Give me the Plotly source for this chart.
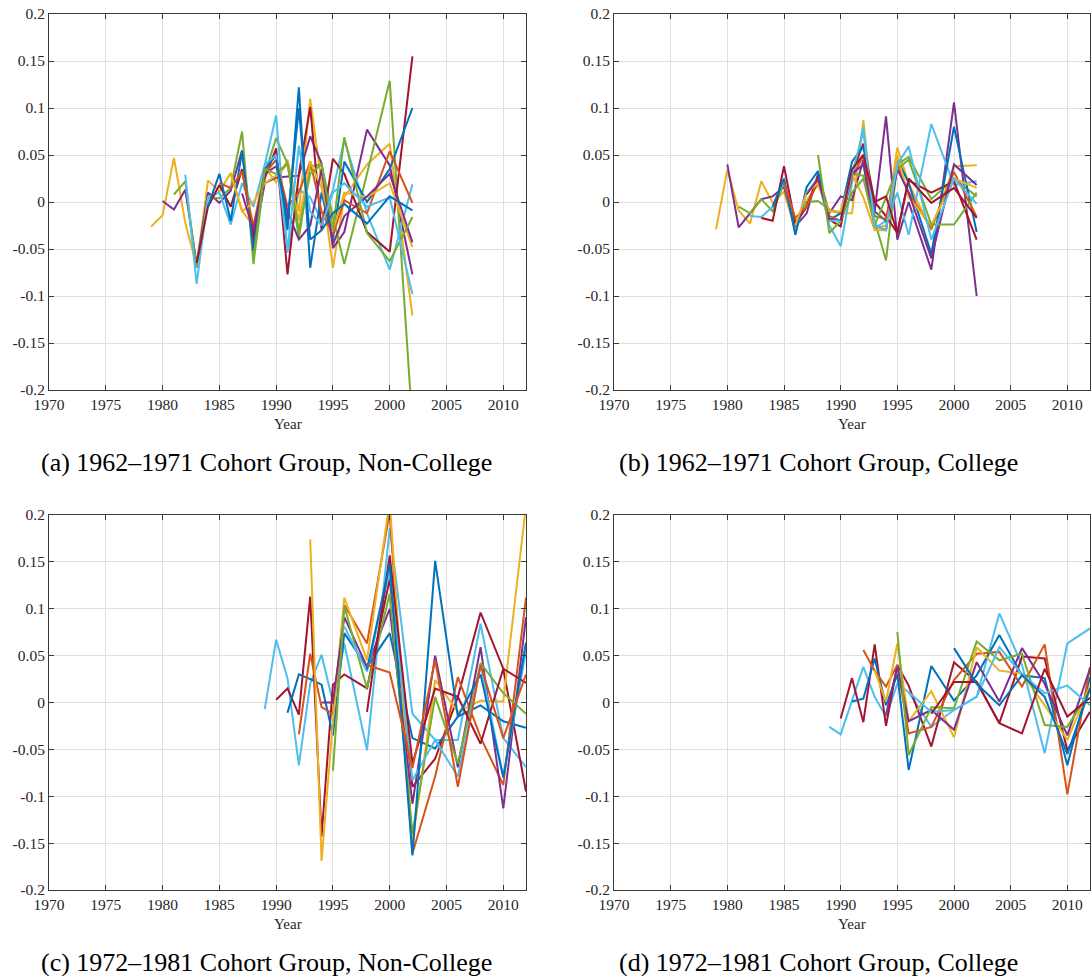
import plotly.graph_objects as go

# ---------------- data ----------------
years_ab = list(range(1979, 1997)) + [1998, 2000, 2002]
years_cd = list(range(1989, 1997)) + [1998, 2000, 2002, 2004, 2006, 2008, 2010, 2012]

x_tick_vals = [1970, 1975, 1980, 1985, 1990, 1995, 2000, 2005, 2010]
y_tick_vals = [-0.2, -0.15, -0.1, -0.05, 0, 0.05, 0.1, 0.15, 0.2]
y_tick_text = ["-0.2", "-0.15", "-0.1", "-0.05", "0", "0.05", "0.1", "0.15", "0.2"]

captions = ["(a) 1962\u20131971 Cohort Group, Non-College",
            "(b) 1962\u20131971 Cohort Group, College",
            "(c) 1972\u20131981 Cohort Group, Non-College",
            "(d) 1972\u20131981 Cohort Group, College"]

BLUE, ORANGE, YELLOW, PURPLE = "#0072BD", "#D95319", "#EDB120", "#7E2F8E"
GREEN, CYAN, RED = "#77AC30", "#4DBEEE", "#A2142F"

# Panel (a): 1962-1971 cohorts, non-college
a_colors = [YELLOW, PURPLE, GREEN, CYAN, RED, BLUE, ORANGE, YELLOW, PURPLE, GREEN, CYAN, BLUE]
a_starts = [1979, 1980, 1981, 1982, 1983, 1984, 1985, 1986, 1987, 1988, 1989, 1990]
a_values = [
    [-0.026, -0.014, 0.047, -0.022, -0.068, 0.023, 0.011, 0.031, -0.009, -0.026, 0.037, 0.021, 0.045, -0.010, 0.110, 0.020, -0.070, 0.005, 0.040, 0.062, -0.121],
    [0.001, -0.008, 0.013, -0.066, 0.010, -0.001, 0.012, 0.055, -0.044, 0.020, 0.026, 0.027, 0.028, 0.070, 0.041, -0.049, -0.032, 0.077, 0.039, -0.077],
    [0.008, 0.022, -0.070, 0.005, 0.004, 0.015, 0.075, -0.066, 0.030, 0.068, 0.041, -0.038, 0.038, 0.040, -0.016, -0.066, 0.030, 0.129, -0.237],
    [0.029, -0.087, 0.005, 0.010, -0.024, 0.020, -0.005, 0.040, 0.092, -0.054, 0.013, 0.005, -0.020, 0.013, 0.066, -0.012, -0.072, 0.019],
    [-0.065, -0.005, 0.018, -0.005, 0.035, -0.037, 0.025, 0.057, -0.077, 0.030, 0.101, -0.030, 0.046, 0.030, -0.032, -0.053, 0.155],
    [-0.005, 0.030, -0.020, 0.054, -0.052, 0.035, 0.050, -0.030, 0.122, -0.070, 0.010, -0.040, 0.043, 0.000, 0.035, 0.100],
    [0.020, 0.015, 0.032, -0.026, 0.030, 0.045, -0.005, 0.010, 0.043, -0.010, -0.035, 0.002, -0.012, 0.054, -0.001],
    [0.030, -0.010, 0.000, 0.020, 0.028, 0.040, -0.020, 0.043, 0.015, -0.030, 0.010, 0.005, 0.020, -0.048],
    [0.009, -0.030, 0.030, 0.038, -0.010, -0.040, -0.025, 0.035, -0.045, -0.015, 0.006, 0.030, -0.043],
    [-0.060, 0.035, 0.030, 0.041, -0.030, 0.030, 0.040, -0.030, 0.069, -0.033, -0.063, -0.016],
    [0.040, 0.050, -0.051, 0.060, -0.010, -0.025, 0.010, 0.020, -0.005, 0.005, -0.098],
    [0.045, -0.020, 0.100, -0.040, -0.030, -0.012, -0.002, -0.023, 0.006, -0.009],
]

# Panel (b): 1962-1971 cohorts, college
b_colors = [YELLOW, PURPLE, GREEN, CYAN, RED, BLUE, ORANGE, YELLOW, PURPLE, GREEN, CYAN, RED]
b_starts = [1979, 1980, 1981, 1982, 1983, 1984, 1985, 1986, 1987, 1988, 1989, 1990]
b_values = [
    [-0.029, 0.034, -0.009, -0.023, 0.022, -0.001, 0.011, -0.030, 0.002, 0.018, -0.009, -0.012, -0.012, 0.087, -0.028, -0.025, 0.058, 0.020, -0.030, 0.038, 0.039],
    [0.040, -0.027, -0.012, 0.003, 0.006, 0.016, -0.026, -0.012, 0.030, -0.012, 0.006, 0.002, 0.045, -0.010, 0.091, -0.040, 0.000, -0.072, 0.106, -0.100],
    [-0.005, -0.012, 0.003, -0.010, 0.020, -0.022, 0.000, 0.001, -0.008, -0.012, 0.030, 0.028, -0.020, -0.062, 0.040, 0.048, 0.003, 0.025, 0.006],
    [-0.015, -0.016, -0.005, 0.023, -0.033, 0.010, 0.025, -0.025, -0.047, 0.020, 0.080, -0.028, -0.020, 0.010, -0.035, 0.083, 0.018, 0.022],
    [-0.017, -0.020, 0.038, -0.023, -0.005, 0.027, -0.019, -0.026, 0.032, 0.062, 0.000, -0.015, -0.033, 0.023, 0.010, 0.022, -0.040],
    [-0.005, 0.025, -0.035, 0.016, 0.033, -0.019, -0.012, 0.043, 0.059, -0.010, -0.020, 0.046, 0.020, -0.055, 0.080, -0.032],
    [0.020, -0.017, -0.005, 0.022, -0.015, -0.020, 0.025, 0.050, -0.015, -0.018, 0.040, 0.010, -0.028, 0.032, -0.016],
    [-0.025, 0.010, 0.020, -0.010, -0.010, 0.030, 0.005, -0.030, -0.030, 0.050, 0.005, -0.025, 0.025, 0.015],
    [0.008, 0.025, -0.018, -0.020, 0.030, 0.040, -0.025, -0.030, 0.035, 0.010, -0.060, 0.040, 0.018],
    [0.050, -0.033, -0.020, 0.010, 0.025, -0.025, 0.005, 0.035, 0.045, -0.024, -0.024, 0.010],
    [-0.020, -0.020, 0.030, 0.075, -0.025, -0.030, 0.040, 0.059, -0.040, 0.025, -0.002],
    [-0.020, 0.035, 0.050, 0.000, 0.006, -0.033, 0.025, -0.001, 0.015, -0.017],
]

# Panel (c): 1972-1981 cohorts, non-college
c_colors = [CYAN, RED, BLUE, ORANGE, YELLOW, PURPLE, GREEN, CYAN, RED, BLUE, ORANGE]
c_starts = [1989, 1990, 1991, 1992, 1993, 1994, 1995, 1996, 1998, 1998, 1998]
c_values = [
    [-0.007, 0.067, 0.026, -0.067, 0.020, 0.051, 0.000, 0.063, -0.051, 0.186, -0.012, -0.040, -0.040, 0.084, -0.038, -0.069],
    [0.003, 0.015, -0.013, 0.113, -0.143, 0.019, 0.030, 0.015, 0.132, -0.090, -0.060, 0.006, 0.096, 0.036, -0.095],
    [-0.011, 0.030, 0.025, 0.019, -0.035, 0.074, 0.038, 0.074, -0.038, -0.049, -0.015, -0.003, -0.020, -0.027],
    [-0.034, 0.052, -0.005, -0.012, 0.104, 0.063, 0.203, -0.161, -0.079, 0.027, -0.037, -0.088, 0.112],
    [0.174, -0.169, -0.020, 0.112, 0.045, 0.215, -0.150, 0.024, -0.010, 0.002, 0.001, 0.210],
    [0.000, 0.000, 0.091, 0.038, 0.100, -0.108, 0.050, -0.069, 0.059, -0.113, 0.091],
    [-0.073, 0.103, 0.015, 0.116, -0.140, 0.006, -0.065, 0.042, 0.010, -0.012],
    [0.081, 0.033, 0.140, -0.083, -0.040, -0.079, 0.040, -0.079, 0.055],
    [-0.010, 0.157, -0.065, 0.015, 0.006, -0.044, 0.036, 0.021],
    [0.035, 0.148, -0.163, 0.151, -0.015, 0.030, -0.080, 0.064],
    [0.040, 0.032, -0.070, 0.045, -0.090, 0.040, -0.038, 0.030],
]

# Panel (d): 1972-1981 cohorts, college
d_colors = [CYAN, RED, BLUE, ORANGE, YELLOW, PURPLE, GREEN, CYAN, RED, BLUE]
d_starts = [1989, 1990, 1991, 1992, 1993, 1994, 1995, 1996, 1998, 2000]
d_values = [
    [-0.026, -0.034, 0.002, 0.038, 0.006, -0.015, 0.020, 0.011, -0.026, -0.008, 0.006, 0.095, 0.040, -0.054, 0.063, 0.079],
    [-0.017, 0.026, -0.021, 0.062, -0.025, 0.040, 0.018, -0.047, 0.043, 0.022, -0.022, 0.049, 0.047, -0.051, -0.010],
    [0.001, 0.004, 0.047, -0.003, 0.030, -0.072, 0.039, 0.002, 0.029, 0.072, 0.029, 0.026, -0.067, 0.027],
    [0.056, 0.034, 0.017, 0.040, -0.033, -0.026, 0.024, 0.052, 0.054, 0.017, 0.062, -0.098, 0.038],
    [0.034, 0.001, 0.063, -0.020, 0.012, -0.037, 0.059, 0.034, 0.031, -0.003, -0.040, 0.018],
    [-0.013, 0.038, -0.020, -0.008, -0.029, 0.043, 0.001, 0.058, 0.020, -0.035, 0.036],
    [0.075, -0.056, -0.005, -0.006, 0.065, 0.045, 0.052, -0.024, -0.026, 0.013],
    [0.011, -0.010, -0.008, 0.006, 0.059, 0.030, 0.010, 0.018, -0.003],
    [-0.012, 0.022, 0.022, -0.022, -0.033, 0.036, -0.015, 0.005],
    [0.058, 0.020, -0.003, 0.029, 0.006, -0.055, 0.015],
]

# ---------------- figure ----------------
W, H = 1091, 976
FONT = "Liberation Serif, Times New Roman, serif"

fig = go.Figure()

panels = [
    (years_ab, a_colors, a_starts, a_values, "x", "y"),
    (years_ab, b_colors, b_starts, b_values, "x2", "y2"),
    (years_cd, c_colors, c_starts, c_values, "x3", "y3"),
    (years_cd, d_colors, d_starts, d_values, "x4", "y4"),
]

for years, colors, starts, values, xa, ya in panels:
    for col, st, vals in zip(colors, starts, values):
        i0 = years.index(st)
        xs = years[i0:i0 + len(vals)]
        fig.add_trace(go.Scatter(x=xs, y=vals, mode="lines", xaxis=xa, yaxis=ya,
                                 line=dict(color=col, width=2), showlegend=False,
                                 hoverinfo="skip"))

# panel pixel boxes (left, right, top, bottom)
boxes = [(49, 526, 14, 390), (614, 1090, 14, 390), (49, 526, 515, 890), (614, 1090, 515, 890)]

axis_common = dict(showgrid=True, gridcolor="#e0e0e0", gridwidth=1, automargin=False,
                   showline=True, linecolor="#3a3a3a", linewidth=1, mirror="ticks",
                   ticks="inside", ticklen=5, tickcolor="#3a3a3a", tickwidth=1,
                   zeroline=False, tickfont=dict(family=FONT, size=15.5, color="#262626"))

layout = dict(template="none", width=W, height=H, margin=dict(l=0, r=0, t=0, b=0),
              paper_bgcolor="white", plot_bgcolor="white", annotations=[])

for k, (l, r, t, b) in enumerate(boxes):
    sfx = "" if k == 0 else str(k + 1)
    layout["xaxis" + sfx] = dict(axis_common, domain=[l / W, r / W], range=[1970, 2012],
                                 tickvals=x_tick_vals, anchor="y" + sfx)
    layout["yaxis" + sfx] = dict(axis_common, domain=[1 - b / H, 1 - t / H], range=[-0.2, 0.2],
                                 tickvals=y_tick_vals, ticktext=y_tick_text, anchor="x" + sfx)
    cx = (l + r) / 2
    layout["annotations"].append(dict(text="Year", x=cx / W, y=1 - (b + 34) / H, xref="paper",
                                      yref="paper", showarrow=False, xanchor="center",
                                      yanchor="middle",
                                      font=dict(family=FONT, size=15, color="#262626")))
    cap_x = 266 if k % 2 == 0 else 818
    layout["annotations"].append(dict(text=captions[k], x=cap_x / W, y=1 - (b + 72) / H,
                                      xref="paper", yref="paper", showarrow=False,
                                      xanchor="center", yanchor="middle",
                                      font=dict(family=FONT, size=26, color="black")))

fig.update_layout(**layout)
fig.write_html("out.html")
